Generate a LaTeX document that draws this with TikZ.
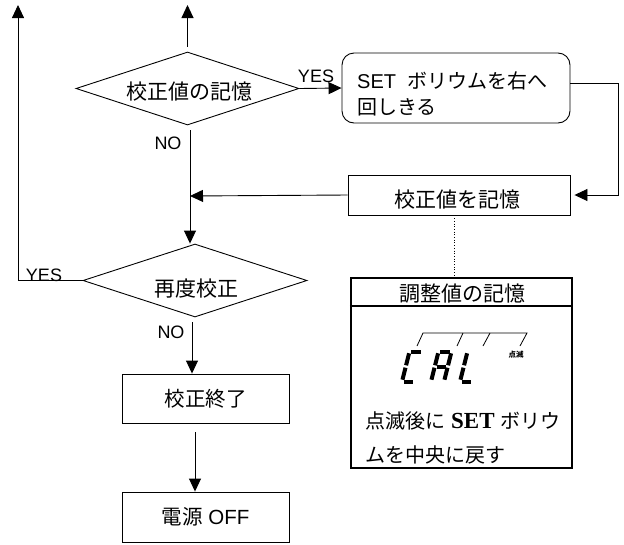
\documentclass[tikz,border=0pt]{standalone}
\usepackage{fontspec}
\setmainfont{Noto Sans CJK JP}
\newfontfamily\lat{Liberation Sans}
\newfontfamily\ser{Liberation Serif}
\usetikzlibrary{shapes.geometric,arrows.meta}
\begin{document}
\begin{tikzpicture}[x=1pt,y=-1pt,
  ln/.style={line width=0.9pt},
  arr/.style={ln,-{Triangle[length=13pt,width=12pt]}},
  diam/.style={draw,ln,diamond,inner sep=0pt},
  box/.style={draw,ln,rectangle,inner sep=0pt},
  jp/.style={font=\fontsize{20.5}{24}\selectfont,inner sep=0pt},
  jpl/.style={font=\fontsize{21}{24}\selectfont,inner sep=0pt},
  lab/.style={font=\lat\fontsize{18}{18}\selectfont,inner sep=0pt},
  seg/.style={line width=4pt,line cap=butt}]
\useasboundingbox (0,0) rectangle (624,544);

% shapes
\node[diam,minimum width=223pt,minimum height=73pt] (d1) at (187.5,88.5) {};
\node[jpl] (t1) at ([shift={(1.5,3.5)}]d1.center) {校正値の記憶};
\node[draw,ln,rounded corners=12pt,minimum width=228pt,minimum height=70pt,inner sep=0pt] (rb) at (456,88) {};
\node[anchor=west,align=left,font=\fontsize{20}{25.5}\selectfont,inner sep=0pt] (trb) at (357,94) {{\lat SET}\hspace{0.55em}ボリウムを右へ\\回しきる};
\node[box,minimum width=222pt,minimum height=40pt] (b2) at (459,195) {};
\node[jpl] (tb2) at ([shift={(-2,5)}]b2.center) {校正値を記憶};
\node[diam,minimum width=224pt,minimum height=73pt] (d2) at (195,280.5) {};
\node[jpl] (t2) at ([shift={(1.5,8)}]d2.center) {再度校正};
\node[box,jp,minimum width=167pt,minimum height=49pt] (b3) at (205.5,398.5) {校正終了};
\node[box,jp,minimum width=167pt,minimum height=50pt] (b4) at (205.5,517) {電源{\lat\ OFF}};

% panel
\node[draw,line width=2.3pt,minimum width=221pt,minimum height=190pt,inner sep=0pt] (pn) at (461.5,373) {};
\draw[line width=2pt] ([yshift=-29pt]pn.north west) -- ([yshift=-29pt]pn.north east);
\node[jpl] (th) at (462,293.5) {調整値の記憶};
\node[anchor=west,align=left,font=\fontsize{20}{34}\selectfont,inner sep=0pt] (tp) at (365,438) {点滅後に\hspace{0.3em}{\ser\bfseries\fontsize{23}{34}\selectfont SET}\hspace{0.3em}ボリウ\\ムを中央に戻す};

% CAL display
\draw[line width=0.8pt] (417,346) -- (423,333) -- (527,333) -- (520,346);
\draw[line width=0.8pt] (463,333) -- (457,346);
\draw[line width=0.8pt] (490,333) -- (483,346);
\begin{scope}[shift={(402,381.5)},xslant=0.25]
  \draw[seg] (1.8,-30) -- (11.2,-30);
  \draw[seg] (0,-1.8) -- (0,-13.8);
  \draw[seg] (0,-16.2) -- (0,-28.2);
  \draw[seg] (1.8,0) -- (11.2,0);
\end{scope}
\begin{scope}[shift={(431,381.5)},xslant=0.25]
  \draw[seg] (1.8,-30) -- (11.2,-30);
  \draw[seg] (13,-28.2) -- (13,-16.2);
  \draw[seg] (13,-13.8) -- (13,-1.8);
  \draw[seg] (0,-1.8) -- (0,-13.8);
  \draw[seg] (0,-16.2) -- (0,-28.2);
  \draw[seg] (1.8,-15) -- (11.2,-15);
\end{scope}
\begin{scope}[shift={(460,381.5)},xslant=0.25]
  \draw[seg] (0,-1.8) -- (0,-13.8);
  \draw[seg] (0,-16.2) -- (0,-28.2);
  \draw[seg] (1.8,0) -- (11.2,0);
\end{scope}
\node[font=\fontsize{7.5}{7.5}\selectfont\bfseries,inner sep=0pt] (blink) at (516,355) {点滅};

% connectors
\coordinate (up1) at (187.5,5);
\coordinate (up0) at (18,5);
\coordinate (j) at (190,196);
\coordinate (k) at (192,0);
\coordinate (m) at (195,0);
\coordinate (p) at (454,0);

\draw[arr,shorten <=5pt] (d1.north) -- (up1);
\draw[arr] (d1.east) -- (rb.west);
\node[lab] (y1) at (316,76) {YES};
\draw[arr,shorten >=4pt] ([yshift=5pt]rb.east) -| ([xshift=48pt]b2.east) -- (b2.east);
\draw[arr] (b2.west) -- (j);
\draw[arr,shorten <=5pt] (d1.south -| j) -- (d2.north -| j);
\node[lab] (n1) at (168,143) {NO};
\draw[arr] (d2.west) -| (up0);
\node[lab] (y2) at (44,275) {YES};
\draw[arr,shorten <=5pt] (d2.south -| k) -- (b3.north -| k);
\node[lab] (n2) at (171,332) {NO};
\draw[arr,shorten <=9pt] (b3.south -| m) -- (b4.north -| m);
\draw[dotted,line width=0.7pt] (b2.south -| p) -- (pn.north -| p);
\end{tikzpicture}
\end{document}
